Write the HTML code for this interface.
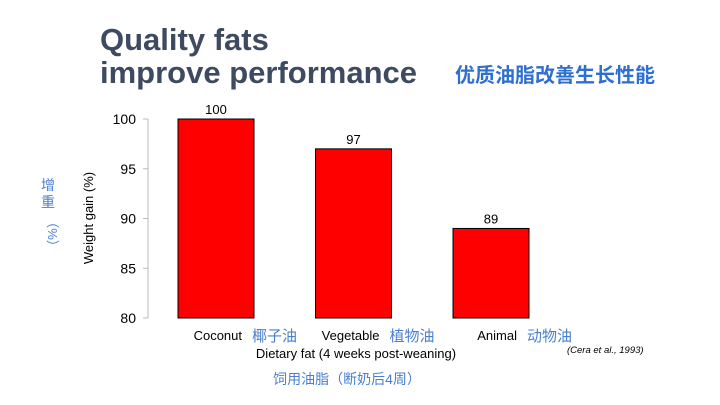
<!DOCTYPE html>
<html><head><meta charset="utf-8"><style>
body{margin:0;width:720px;height:405px;background:#fff;overflow:hidden;font-family:"Liberation Sans","Noto Sans CJK SC",sans-serif}
</style></head><body>
<svg width="720" height="405" style="position:absolute;left:0;top:0">
<text x="100" y="50" font-size="31" font-weight="bold" fill="#3d4a5f">Quality fats</text>
<text x="100" y="83" font-size="31" font-weight="bold" fill="#3d4a5f">improve performance</text>
<text x="455" y="82" font-size="20" font-weight="bold" fill="#2e6fd0">优质油脂改善生长性能</text>
<g id="axis"></g>
<g id="bars"></g>
<text transform="translate(93,218) rotate(-90)" text-anchor="middle" font-size="13" fill="#000">Weight gain (%)</text>
<g fill="#4a7fd0" font-size="14">
<text x="48" y="190" text-anchor="middle">增</text>
<text x="48" y="207" text-anchor="middle">重</text>
<text transform="translate(48,234) rotate(90)" text-anchor="middle" font-size="13">（%）</text>
</g>
<text x="356" y="358" text-anchor="middle" font-size="13" fill="#000">Dietary fat (4 weeks post-weaning)</text>
<text x="347" y="384" text-anchor="middle" font-size="14" fill="#4a7fd0">饲用油脂（断奶后4周）</text>
<text x="567" y="353" font-size="9.5" font-style="italic" fill="#000">(Cera et al., 1993)</text>
</svg>
<script>
const categories=["Coconut","Vegetable","Animal"];
const categoriesCn=["椰子油","植物油","动物油"];
const values=[100,97,89];
const ticks=[80,85,90,95,100];
const NS="http://www.w3.org/2000/svg";
const y0=318,y1=119,vmin=80,vmax=100;
function y(v){return y0-(v-vmin)/(vmax-vmin)*(y0-y1);}
function x(i){return 178+i*137.5;}
function mk(t,a,p){const e=document.createElementNS(NS,t);for(const k in a)e.setAttribute(k,a[k]);p.appendChild(e);return e;}
const ax=document.getElementById('axis'),bg=document.getElementById('bars');
const al=mk('line',{x1:148,x2:148,y1:y(100),y2:y(80),stroke:'#bbb','stroke-width':1},ax);


ticks.forEach(t=>{
 const l=mk('line',{x1:143,x2:148,y1:y(t),y2:y(t),stroke:'#bbb'},ax);
 
 
 const tx=mk('text',{x:136,y:y(t)+5,'text-anchor':'end','font-size':14,fill:'#000'},ax);
 tx.textContent=t;
 
 
});
values.forEach((v,i)=>{
 const r=mk('rect',{x:x(i),y:y(v),width:76,height:y(vmin)-y(v),fill:'#ff0000',stroke:'#000','stroke-width':1},bg);
 
 
 const lb=mk('text',{x:x(i)+38,y:y(v)-5,'text-anchor':'middle','font-size':13,fill:'#000'},bg);
 lb.textContent=v;
 
 
 const c=mk('text',{x:x(i)+64,y:340,'text-anchor':'end','font-size':13,fill:'#000'},bg);
 c.textContent=categories[i];
 
 
 const cn=mk('text',{x:x(i)+74,y:341,'font-size':15,fill:'#4a7fd0'},bg);
 cn.textContent=categoriesCn[i];
 
 
});
</script>
</body></html>
